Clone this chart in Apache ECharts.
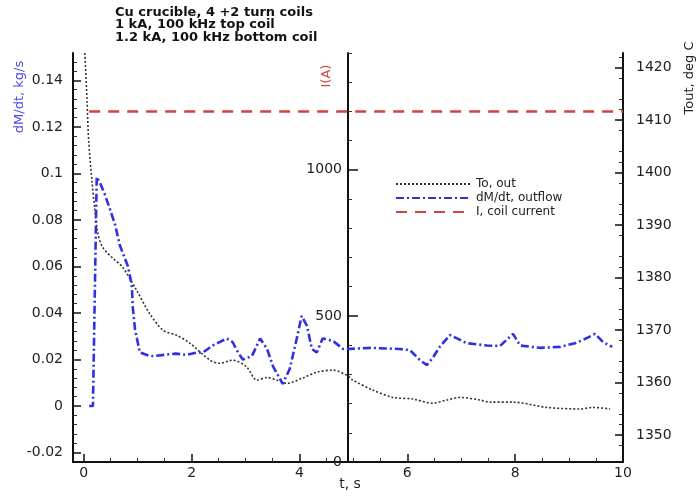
<!DOCTYPE html>
<html>
<head>
<meta charset="utf-8">
<script src="https://cdn.jsdelivr.net/npm/echarts@6/dist/echarts.min.js"></script>
<style>
  html, body { margin: 0; padding: 0; background: #fff; }
  #chart { width: 699px; height: 497px; }
</style>
</head>
<body>
<div id="chart"></div>
<script>
// outflow dM/dt, kg/s (left axis)
const flowTime = [0.1, 0.17, 0.24, 0.30, 0.39, 0.48, 0.58, 0.67, 0.82, 0.89, 0.91, 0.95, 1.04, 1.22, 1.3, 1.5, 1.7, 1.9, 2.1,
  2.21, 2.39, 2.65, 2.76, 2.86, 2.95, 3.12, 3.27, 3.40, 3.51, 3.69, 3.82, 3.95, 4.04, 4.14, 4.23, 4.32, 4.43, 4.62, 4.81,
  4.9, 5.31, 5.86, 6.05, 6.23, 6.36, 6.47, 6.6, 6.79, 6.98, 7.1, 7.48, 7.72, 7.96, 8.09, 8.46, 8.83, 9.11, 9.26, 9.48, 9.63, 9.8];
const flow = [0, 0, 0.0985, 0.096, 0.091, 0.085, 0.078, 0.069, 0.060, 0.052, 0.042, 0.033, 0.023, 0.0215, 0.0215, 0.022, 0.0225, 0.022, 0.023,
  0.023, 0.026, 0.029, 0.0275, 0.023, 0.020, 0.0215, 0.029, 0.0245, 0.017, 0.0095, 0.016, 0.029, 0.0387, 0.0344, 0.0245, 0.023, 0.029, 0.028, 0.0245,
  0.0245, 0.025, 0.0245, 0.024, 0.0198, 0.0176, 0.0206, 0.0254, 0.0305, 0.0284, 0.027, 0.026, 0.0258, 0.031, 0.026, 0.025, 0.0254, 0.027, 0.0284, 0.031, 0.0275, 0.0254];

// outlet temperature, deg C (right axis)
const tempTime = [0.02, 0.06, 0.09, 0.15, 0.2, 0.26, 0.35, 0.54, 0.72, 0.98, 1.22, 1.47, 1.73, 1.97, 2.34, 2.52, 2.76, 3.02, 3.21, 3.4,
  3.58, 3.77, 4.06, 4.32, 4.62, 4.88, 4.99, 5.36, 5.73, 6.1, 6.47, 6.73, 6.98, 7.35, 7.53, 7.96, 8.59, 9.2, 9.44, 9.76];
const temp = [1422.8, 1413.8, 1406.2, 1398.6, 1393.4, 1388.5, 1385.8, 1383.7, 1382, 1377.6, 1373.2, 1370, 1369, 1367.5, 1364.3, 1363.7, 1364.3, 1363, 1360.5, 1361,
  1360.5, 1359.9, 1360.9, 1362, 1362.4, 1361.4, 1360.5, 1358.6, 1357.2, 1356.9, 1356.1, 1356.7, 1357.2, 1356.7, 1356.3, 1356.3, 1355.3, 1355, 1355.3, 1355];

// coil current, A (middle axis)
const currentTime = [0.1, 10];
const current = [1200, 1200];

const xMajor = [0, 2, 4, 6, 8, 10];
const flowMajor = [-0.02, 0, 0.02, 0.04, 0.06, 0.08, 0.1, 0.12, 0.14];
const currentMajor = [0, 500, 1000];
const tempMajor = [1350, 1360, 1370, 1380, 1390, 1400, 1410, 1420];

function pairs(xs, ys) {
  return xs.map(function (x, i) { return [x, ys[i]]; });
}
function minorTicks(start, end, step, every) {
  const out = [];
  for (let i = 0; start + i * step <= end + 1e-9; i++) {
    if (i % every !== 0) out.push(+(start + i * step).toFixed(6));
  }
  return out;
}
function plain(v) {
  return String(parseFloat(v.toFixed(2)));
}

const fontName = 'DejaVu Sans';
const labelStyle = { color: '#222', fontSize: 14, fontFamily: fontName, formatter: plain };
const lineAxis = { show: true, onZero: false, lineStyle: { color: '#111', width: 2 } };
const noLine = { show: false, onZero: false };

const chart = echarts.init(document.getElementById('chart'));
const option = {
  animation: false,
  backgroundColor: '#fff',
  grid: { left: 73, right: 76, top: 53, bottom: 35 },
  legend: {
    orient: 'vertical',
    left: 395,
    top: 178,
    padding: 0,
    itemWidth: 75,
    itemHeight: 12,
    itemGap: 2,
    itemStyle: { opacity: 0 },
    textStyle: { fontSize: 12, fontFamily: fontName, color: '#222' },
    data: ['To, out', 'dM/dt, outflow', 'I, coil current']
  },
  xAxis: [
    {
      type: 'value', min: -0.2, max: 10, position: 'bottom',
      axisLine: lineAxis,
      axisTick: { inside: true, length: 8, customValues: xMajor, lineStyle: { color: '#111', width: 1.5 } },
      axisLabel: Object.assign({ customValues: xMajor, margin: 4 }, labelStyle),
      splitLine: { show: false }
    },
    {
      type: 'value', min: -0.2, max: 10, position: 'bottom',
      axisLine: noLine,
      axisTick: { inside: true, length: 4, customValues: minorTicks(0, 10, 0.5, 4), lineStyle: { color: '#333' } },
      axisLabel: { show: false },
      splitLine: { show: false }
    }
  ],
  yAxis: [
    {
      type: 'value', min: -0.0241, max: 0.1518, position: 'left',
      axisLine: lineAxis,
      axisTick: { inside: true, length: 8, customValues: flowMajor, lineStyle: { color: '#111', width: 1.5 } },
      axisLabel: Object.assign({ customValues: flowMajor, margin: 10 }, labelStyle),
      splitLine: { show: false }
    },
    {
      type: 'value', min: -0.0241, max: 0.1518, position: 'left',
      axisLine: noLine,
      axisTick: { inside: true, length: 4, customValues: minorTicks(-0.02, 0.152, 0.004, 5), lineStyle: { color: '#333' } },
      axisLabel: { show: false },
      splitLine: { show: false }
    },
    {
      type: 'value', min: 0, max: 1400, position: 'left', offset: -275,
      axisLine: lineAxis,
      axisTick: { inside: true, length: 10, customValues: currentMajor, lineStyle: { color: '#111', width: 1.5 } },
      axisLabel: Object.assign({ customValues: currentMajor, margin: 6 }, labelStyle),
      splitLine: { show: false }
    },
    {
      type: 'value', min: 0, max: 1400, position: 'left', offset: -275,
      axisLine: noLine,
      axisTick: { inside: true, length: 4, customValues: minorTicks(0, 1400, 100, 5), lineStyle: { color: '#333' } },
      axisLabel: { show: false },
      splitLine: { show: false }
    },
    {
      type: 'value', min: 1344.9, max: 1422.8, position: 'right',
      axisLine: lineAxis,
      axisTick: { inside: true, length: 8, customValues: tempMajor, lineStyle: { color: '#111', width: 1.5 } },
      axisLabel: Object.assign({ customValues: tempMajor, margin: 13 }, labelStyle),
      splitLine: { show: false }
    },
    {
      type: 'value', min: 1344.9, max: 1422.8, position: 'right',
      axisLine: noLine,
      axisTick: { inside: true, length: 4, customValues: minorTicks(1346, 1422, 2, 5), lineStyle: { color: '#333' } },
      axisLabel: { show: false },
      splitLine: { show: false }
    }
  ],
  series: [
    {
      name: 'I, coil current', type: 'line', yAxisIndex: 2, symbol: 'none',
      data: pairs(currentTime, current),
      lineStyle: { color: '#cc4444', width: 2.5, type: [11, 8] },
      itemStyle: { color: '#cc4444' }
    },
    {
      name: 'To, out', type: 'line', yAxisIndex: 4, symbol: 'none', smooth: 0.3,
      data: pairs(tempTime, temp),
      lineStyle: { color: '#333', width: 1.6, type: [2, 2] },
      itemStyle: { color: '#333' }
    },
    {
      name: 'dM/dt, outflow', type: 'line', yAxisIndex: 0, symbol: 'none',
      data: pairs(flowTime, flow),
      lineStyle: { color: '#3030e0', width: 2.6, type: [8, 3, 2, 3] },
      itemStyle: { color: '#3030e0' }
    }
  ],
  graphic: [
    {
      type: 'text', left: 115, top: 6,
      style: {
        text: 'Cu crucible, 4 +2 turn coils\n1 kA, 100 kHz top coil\n1.2 kA, 100 kHz bottom coil',
        font: 'bold 13px "DejaVu Sans"', lineHeight: 12.5, fill: '#111'
      }
    },
    {
      type: 'text', x: 20, y: 97, rotation: Math.PI / 2,
      style: { text: 'dM/dt, kg/s', font: '13px "DejaVu Sans"', fill: '#4b4be6', align: 'center', verticalAlign: 'middle' }
    },
    {
      type: 'text', x: 327, y: 76, rotation: Math.PI / 2,
      style: { text: 'I(A)', font: '13px "DejaVu Sans"', fill: '#d04848', align: 'center', verticalAlign: 'middle' }
    },
    {
      type: 'text', x: 690, y: 78, rotation: Math.PI / 2,
      style: { text: 'Tout, deg C', font: '13px "DejaVu Sans"', fill: '#222', align: 'center', verticalAlign: 'middle' }
    },
    {
      type: 'text', x: 350, y: 484,
      style: { text: 't, s', font: '14px "DejaVu Sans"', fill: '#222', align: 'center', verticalAlign: 'middle' }
    }
  ]
};
chart.setOption(option);
</script>
</body>
</html>
